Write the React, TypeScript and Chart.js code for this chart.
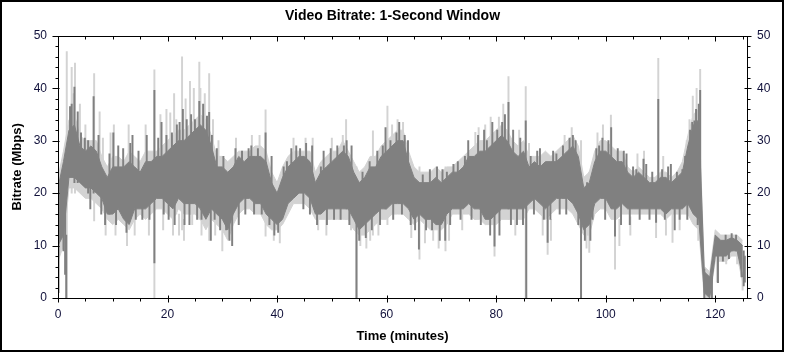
import React, { useEffect, useRef } from 'react';
import { Chart, registerables } from 'chart.js';

Chart.register(...registerables);

// Time (minutes) of each 1-minute sample of the bitrate band
const minutes = [
  0, 1, 2, 3, 4, 5, 6, 7, 8, 9, 10, 11, 12, 13, 14, 15, 16, 17, 18, 19,
  20, 21, 22, 23, 24, 25, 26, 27, 28, 29, 30, 31, 32, 33, 34, 35, 36, 37, 38, 39,
  40, 41, 42, 43, 44, 45, 46, 47, 48, 49, 50, 51, 52, 53, 54, 55, 56, 57, 58, 59,
  60, 61, 62, 63, 64, 65, 66, 67, 68, 69, 70, 71, 72, 73, 74, 75, 76, 77, 78, 79,
  80, 81, 82, 83, 84, 85, 86, 87, 88, 89, 90, 91, 92, 93, 94, 95, 96, 97, 98, 99,
  100, 101, 102, 103, 104, 105, 106, 107, 108, 109, 110, 111, 112, 113, 114, 115, 116, 117, 118, 119,
  120, 121, 122, 123, 124, 125,
];

// Core (dark) band of the 1-second bitrate, Mbps
const darkLow = [
  10, 12, 23, 23, 22, 21, 21, 20, 19, 16, 16, 17, 15, 14, 17, 17, 17, 18, 19, 19,
  18, 17, 19, 18, 18, 18, 17, 15, 17, 16, 15, 13, 16, 18, 19, 19, 18, 18, 16, 15,
  14, 15, 18, 19, 20, 20, 19, 16, 16, 17, 17, 17, 17, 17, 15, 13, 14, 15, 16, 17,
  17, 18, 18, 18, 17, 15, 16, 15, 15, 14, 14, 16, 17, 17, 17, 18, 17, 17, 15, 15,
  16, 17, 17, 17, 17, 17, 18, 19, 18, 17, 18, 19, 19, 19, 18, 16, 13, 14, 18, 19,
  19, 17, 17, 18, 17, 17, 17, 17, 17, 17, 17, 16, 17, 17, 17, 18, 16, 15, 1, 0,
  8, 8, 8, 9, 9, 4,
];
const darkHigh = [
  21, 26, 32, 33, 29, 28, 29, 28, 25, 23, 25, 25, 25, 26, 25, 24, 26, 26, 27, 27,
  28, 29, 30, 30, 31, 32, 33, 32, 29, 25, 25, 24, 25, 27, 26, 27, 27, 27, 26, 22,
  20, 23, 25, 26, 27, 27, 26, 22, 24, 25, 26, 27, 28, 27, 24, 22, 23, 25, 25, 27,
  28, 29, 30, 30, 26, 23, 22, 22, 22, 23, 22, 23, 24, 24, 25, 27, 27, 28, 28, 29,
  30, 31, 30, 28, 27, 28, 25, 26, 25, 26, 26, 26, 27, 28, 29, 27, 21, 22, 26, 28,
  28, 27, 26, 26, 24, 23, 24, 23, 22, 22, 23, 23, 22, 23, 24, 29, 33, 34, 5, 4,
  12, 11, 11, 11.5, 11, 10,
];

// Outer (light) envelope of the 1-second bitrate, Mbps
const lightLow = [
  7, 10, 21, 21, 20, 19, 19, 18, 17, 15, 14, 15, 14, 13, 15, 16, 15, 16, 17, 17,
  16, 15, 17, 16, 16, 16, 15, 13, 15, 14, 13, 11, 14, 16, 17, 17, 16, 16, 14, 13,
  13, 14, 16, 18, 18, 18, 17, 15, 15, 15, 15, 15, 15, 15, 13, 12, 12, 13, 14, 15,
  15, 16, 16, 16, 15, 14, 15, 14, 13, 13, 13, 14, 16, 16, 16, 16, 15, 15, 14, 14,
  14, 15, 15, 15, 15, 15, 17, 17, 16, 15, 16, 17, 17, 17, 16, 14, 12, 12, 16, 17,
  17, 15, 15, 16, 16, 16, 16, 16, 16, 16, 16, 15, 16, 16, 16, 16, 14, 13, 0, 0,
  7, 7, 7, 8, 8, 3,
];
const lightHigh = [
  23, 28, 34, 35, 31, 30, 30, 30, 27, 25, 27, 27, 26, 28, 27, 26, 28, 28, 28, 29,
  30, 31, 32, 32, 33, 34, 35, 34, 31, 27, 27, 26, 27, 28, 28, 28, 29, 29, 28, 24,
  22, 25, 27, 28, 28, 28, 28, 24, 26, 27, 28, 28, 30, 28, 26, 24, 25, 27, 27, 29,
  30, 31, 32, 32, 28, 25, 24, 24, 24, 25, 24, 25, 25, 26, 27, 28, 29, 30, 30, 31,
  32, 33, 32, 30, 29, 30, 27, 27, 27, 28, 27, 28, 29, 30, 31, 29, 23, 24, 28, 30,
  30, 29, 28, 28, 25, 24, 25, 24, 23, 23, 24, 24, 23, 24, 26, 31, 35, 36, 6, 5,
  13, 12, 12, 12, 12, 11,
];

// 1-second excursions of the core trace beyond its band: time, low, high
const darkSpikeTime = [
  0.1, 1.0, 1.3, 1.5, 2.2, 2.5, 3.0, 3.6, 4.2, 4.9, 5.5, 5.9, 6.5, 7.4, 7.9, 8.6, 9.4, 10.1, 10.6, 11.0,
  11.9, 12.5, 13.2, 13.6, 14.2, 14.7, 15.4, 16.2, 16.7, 17.6, 18.3, 18.9, 19.3, 19.8, 20.2, 20.8, 21.3, 21.7, 22.2, 22.8,
  23.1, 23.5, 24.0, 24.3, 25.0, 25.4, 25.8, 26.2, 26.5, 27.2, 27.6, 27.9, 28.1, 28.6, 29.0, 29.6, 30.2, 30.7, 31.3, 31.8,
  32.4, 33.0, 33.6, 34.2, 34.8, 35.3, 35.8, 36.5, 37.2, 37.9, 38.6, 39.0, 39.5, 40.2, 41.2, 41.8, 42.6, 43.5, 44.2, 44.8,
  45.3, 46.0, 46.4, 47.3, 48.0, 48.5, 49.1, 49.8, 50.4, 51.0, 51.6, 52.2, 52.7, 53.2, 53.6, 54.5, 55.0, 55.6, 56.2, 56.9,
  57.3, 58.3, 58.8, 59.3, 59.8, 60.7, 61.2, 61.8, 62.3, 62.8, 63.3, 63.9, 64.4, 65.2, 65.9, 66.6, 67.2, 67.9, 68.3, 69.2,
  69.7, 70.2, 70.7, 71.0, 71.6, 72.2, 73.0, 73.5, 74.3, 74.9, 75.5, 76.7, 77.2, 77.8, 78.3, 78.9, 79.3, 79.7, 80.2, 80.6,
  81.1, 81.6, 82.25, 82.7, 83.1, 83.8, 84.4, 84.9, 85.4, 85.5, 86.3, 86.9, 87.5, 88.0, 88.7, 89.4, 89.9, 90.4, 91.0, 91.6,
  92.2, 92.8, 93.4, 94.0, 94.5, 95.0, 95.5, 96.2, 96.6, 97.2, 97.6, 98.3, 98.8, 99.4, 99.9, 100.5, 101.0, 101.7, 102.2, 102.8,
  103.3, 103.8, 104.4, 105.0, 105.6, 106.2, 106.9, 107.4, 108.0, 108.5, 109.2, 109.6, 110.3, 110.8, 111.4, 111.9, 112.6, 113.0, 113.5, 114.0,
  114.5, 114.9, 115.4, 115.8, 116.2, 116.5, 116.8, 117.0, 117.25, 118.0, 119.4, 120.5, 121.4, 121.9, 122.5, 123.0, 123.8, 124.3, 124.8, 125.2,
  125.4,
];
const darkSpikeLow = [
  1, 9, 4.5, 0, 24, 26, 22, 22, 24, 23, 20, 17, 20, 22, 16, 14, 16, 19, 14, 19,
  19, 12.5, 19, 20, 15, 19, 15, 20, 15, 6.7, 21, 21, 16, 20, 15, 21, 14, 21, 21, 19,
  14, 21, 14, 21, 21, 15, 18, 15, 22, 22, 18, 11, 20, 15, 19, 13, 18, 13, 11, 10,
  20, 14, 21, 16, 21, 21, 16, 21, 16, 17, 14, 18, 12, 12.5, 17, 18, 21, 21, 21, 17,
  22, 16, 21, 14, 18, 20, 14, 20, 15, 20, 15, 20, 17, 14, 20, 0, 11, 17, 11.5, 18,
  13, 19, 14, 20, 17, 21, 15, 21, 22, 16, 22, 22, 14, 13, 9.3, 18, 13, 18, 13, 17,
  11, 17, 11, 19, 14, 19, 20, 15, 20, 21, 15, 21, 14, 21, 21, 12, 22, 9.9, 22, 12,
  22, 22, 17, 14, 22, 14, 21, 14, 17, 0, 20, 16, 21, 21, 15, 10.6, 15, 20, 21, 16,
  21, 16, 21, 21, 20, 14, 0, 11, 16, 11, 15, 20, 20, 20, 15, 20, 18, 11.8, 20, 14,
  20, 20, 14, 19, 19, 15, 19, 19, 15, 19, 14.4, 19, 19, 15, 19, 19, 13, 19, 15, 19,
  19, 15, 20, 20, 16, 20, 14, 20, 15, 0, 0, 2.9, 7, 9, 7.5, 9, 9, 8, 4, 2.3,
  3,
];
const darkSpikeHigh = [
  18, 20, 18, 12, 36.5, 37, 40.2, 35.5, 31.5, 30.5, 30, 24, 38.4, 31, 22, 22, 27.5, 31.5, 20, 29,
  28.5, 20, 29.5, 31, 21, 28, 21, 31, 22, 39.6, 30.5, 33.5, 22, 31, 21, 31.5, 21, 33, 33.5, 36,
  21, 34, 21, 35, 34, 21, 37.5, 22, 37, 34.7, 35.4, 20, 31, 21, 28.5, 20, 27, 19, 20, 18,
  28.5, 20, 28, 21, 28.5, 29, 21, 28.5, 21, 31.5, 20, 27, 18, 17, 25, 26, 28.5, 29, 28.5, 21,
  29.5, 21, 29, 19, 25, 28, 19, 28.5, 20, 29, 20, 29, 30, 20, 29, 20, 17, 24, 17, 26,
  18, 28, 19, 29, 32.5, 30, 20, 31.5, 33.5, 21, 31, 30, 20, 18, 22, 23.5, 18, 24.5, 17, 25,
  17, 24.5, 22, 24, 19, 25.5, 26, 19, 27, 30, 20, 31, 20, 32, 30, 19, 33.5, 25, 32, 19,
  33.5, 35, 37.3, 20, 32, 20, 30.5, 20, 33.8, 20, 27, 20, 28, 28.5, 20, 20, 20, 28, 27.5, 21,
  29, 21, 30.5, 31, 30, 20, 22, 16, 22, 20, 23, 28.5, 29, 30.5, 20, 30, 32.5, 20, 28.5, 19,
  28, 27.5, 19, 25, 24.5, 19, 26.5, 25.5, 19, 24, 20, 37.9, 24.5, 19, 25, 25.5, 20, 24, 19, 24.5,
  27, 19, 32, 33.5, 33.8, 36, 20, 37, 39.6, 5.5, 4, 10, 10, 12, 10, 12.3, 12, 10, 10, 9,
  8,
];

// 1-second excursions of the outer envelope: time, low, high
const lightSpikeTime = [
  1.6, 2.5, 2.8, 3.1, 4.0, 5.0, 6.6, 7.6, 8.2, 8.7, 9.6, 10.2, 10.5, 12.6, 12.9, 14.0, 16.0, 16.6, 17.6, 18.7,
  19.2, 19.8, 20.5, 21.0, 21.2, 21.6, 22.1, 22.65, 23.0, 23.3, 24.1, 24.5, 24.8, 25.8, 26.0, 26.2, 26.8, 27.6, 28.3, 28.7,
  29.3, 30.0, 32.5, 35.4, 36.8, 37.9, 39.4, 40.5, 43.0, 45.2, 46.5, 47.5, 49.0, 50.0, 52.0, 52.6, 53.5, 54.5, 55.2, 56.3,
  57.0, 57.5, 58.5, 60.15, 61.0, 62.0, 63.0, 64.5, 66.0, 67.0, 68.5, 69.5, 70.75, 71.4, 73.8, 76.2, 76.8, 78.0, 79.0, 79.7,
  80.5, 81.3, 82.25, 83.5, 84.2, 85.4, 86.0, 88.5, 89.4, 90.0, 92.5, 93.8, 95.5, 96.5, 97.0, 98.5, 99.5, 100.95, 101.7, 102.5,
  104.5, 105.8, 107.0, 109.2, 109.6, 110.5, 111.0, 112.2, 113.5, 114.8, 115.3, 115.9, 116.6, 116.9, 117.25, 120.3, 122.0, 124.0, 125.0,
];
const lightSpikeLow = [
  0, 20, 25, 20, 25, 24, 14.7, 24, 24, 12, 22, 23, 12, 10, 24, 12, 24, 12, 0, 26,
  13, 26, 16, 12, 27, 16, 12, 13, 11, 28, 16, 14, 28, 15, 30, 12, 30, 11, 26, 12,
  22, 9, 24, 24, 24, 11.8, 11, 10.5, 24, 24, 24, 13, 12, 24, 24, 15, 13, 0, 10, 9.5,
  11, 12, 12, 14, 25, 26, 27, 11.5, 7.4, 10.5, 11, 9.5, 9, 11, 13, 15, 25, 26, 26, 8,
  27, 27, 15, 12, 25, 0, 24, 12, 8.3, 11, 24, 24, 0, 9.5, 8.7, 24, 25, 16, 5.5, 10,
  12, 22, 21, 11.5, 19, 21, 12, 10.6, 13, 22, 24, 16, 24, 11, 13, 3, 6.5, 6.5, 1.5,
];
const lightSpikeHigh = [
  47, 44, 39, 44.8, 37, 33, 42.8, 35.5, 30.5, 17, 31.5, 33, 17, 15, 33, 16, 33, 16, 43.5, 35,
  17, 36, 35.3, 16, 39, 34, 16, 46, 15, 38, 41.3, 17, 40, 45, 40, 16, 39, 42.8, 34, 16,
  30, 14, 30.5, 31, 31, 35.9, 15, 14, 30.5, 30.5, 30.5, 16, 16, 30.5, 31, 34, 16, 25, 13, 13,
  14, 31.9, 15, 36.6, 33, 34, 33.5, 15, 25, 14, 14, 13, 25, 15, 16, 31.6, 32.5, 33, 34.5, 28,
  34.5, 37, 42.2, 15, 32, 40.3, 29.5, 16, 27, 15, 31, 32.5, 30, 13, 24, 31.5, 33, 34.9, 22, 15,
  15.5, 27.5, 28, 20, 45.7, 27, 15, 22, 16, 30, 34, 38.5, 40, 16, 43.6, 8, 9, 9, 5,
];

const xTickLabels = ['0', '20', '40', '60', '80', '100', '120'];
const yTickLabels = ['0', '10', '20', '30', '40', '50'];

const DARK = '#808080';
const LIGHT = '#d3d3d3';
const TICK_FONT = "'Liberation Sans Narrow', 'Liberation Sans', Arial, sans-serif";
const TITLE_FONT = "'Liberation Sans', Arial, sans-serif";

const framePlugin = {
  id: 'frame',
  beforeDraw(chart: any) {
    const ctx = chart.ctx;
    ctx.save();
    ctx.fillStyle = '#ffffff';
    ctx.fillRect(0, 0, chart.width, chart.height);
    ctx.restore();
  },
  afterDraw(chart: any) {
    const ctx = chart.ctx;
    const xs = chart.scales.x;
    const ys = chart.scales.y;
    const L = Math.round(chart.chartArea.left) + 0.5;
    const R = Math.round(chart.chartArea.right) + 0.5;
    const T = Math.round(chart.chartArea.top) + 0.5;
    const B = Math.round(chart.chartArea.bottom) + 0.5;
    ctx.save();
    ctx.strokeStyle = '#000000';
    ctx.lineWidth = 1;
    ctx.beginPath();
    ctx.rect(L, T, R - L, B - T);
    for (let v = 0; v <= 50; v += 2) {
      const py = Math.round(ys.getPixelForValue(v)) + 0.5;
      const major = v % 10 === 0;
      ctx.moveTo(L - (major ? 6 : 3), py);
      ctx.lineTo(L + (major ? 1 : 0), py);
      ctx.moveTo(R - (major ? 3 : 0), py);
      ctx.lineTo(R + (major ? 4 : 3), py);
    }
    for (let v = 0; v <= xs.max; v += 5) {
      const px = Math.round(xs.getPixelForValue(v)) + 0.5;
      const major = v % 20 === 0;
      ctx.moveTo(px, B - (major ? 3 : 0));
      ctx.lineTo(px, B + (major ? 4 : 3));
      ctx.moveTo(px, T);
      ctx.lineTo(px, T + (major ? 5 : 3));
    }
    ctx.stroke();
    ctx.lineWidth = 2;
    ctx.strokeRect(1, 1, chart.width - 3, chart.height - 3);
    ctx.restore();
  },
};

export default function App() {
  const canvasRef = useRef<HTMLCanvasElement | null>(null);

  useEffect(() => {
    const canvas = canvasRef.current;
    if (!canvas) return;
    const pts = (ys: number[]) => minutes.map((t, i) => ({ x: t, y: ys[i] }));
    const spikes = (ts: number[], lo: number[], hi: number[]) =>
      ts.map((t, i) => ({ x: t, y: [lo[i], hi[i]] }));

    const chart = new Chart(canvas, {
      type: 'line',
      data: {
        datasets: [
          { type: 'line', data: pts(darkHigh), borderColor: DARK, borderWidth: 1, pointRadius: 0, fill: false, order: 2, tension: 0 },
          { type: 'line', data: pts(darkLow), borderColor: DARK, borderWidth: 1, pointRadius: 0, fill: '-1', backgroundColor: DARK, order: 2, tension: 0 },
          { type: 'line', data: pts(lightHigh), borderColor: LIGHT, borderWidth: 1, pointRadius: 0, fill: false, order: 3, tension: 0 },
          { type: 'line', data: pts(lightLow), borderColor: LIGHT, borderWidth: 1, pointRadius: 0, fill: '-1', backgroundColor: LIGHT, order: 3, tension: 0 },
          { type: 'bar', data: spikes(darkSpikeTime, darkSpikeLow, darkSpikeHigh) as any, backgroundColor: DARK, barThickness: 1.3, grouped: false, order: 1 } as any,
          { type: 'bar', data: spikes(lightSpikeTime, lightSpikeLow, lightSpikeHigh) as any, backgroundColor: LIGHT, barThickness: 1.3, grouped: false, order: 4 } as any,
        ],
      },
      options: {
        responsive: false,
        animation: false,
        devicePixelRatio: 1,
        layout: { padding: 0 },
        plugins: {
          legend: { display: false },
          tooltip: { enabled: false },
          title: {
            display: true,
            text: 'Video Bitrate: 1-Second Window',
            color: '#000000',
            font: { family: TITLE_FONT, size: 14, weight: 'bold' },
            padding: { top: 8, bottom: 11 },
          },
        },
        scales: {
          x: {
            type: 'linear',
            min: 0,
            max: 125.8,
            offset: false,
            grid: { display: false, drawTicks: false },
            border: { display: false },
            afterFit: (s: any) => { s.height = 55; },
            afterBuildTicks: (s: any) => { s.ticks = xTickLabels.map((l) => ({ value: Number(l) })); },
            ticks: { color: '#10103a', padding: 9, maxRotation: 0, autoSkip: false, font: { family: TICK_FONT, size: 12 } },
            title: { display: true, text: 'Time (minutes)', color: '#000000', font: { family: TITLE_FONT, size: 13, weight: 'bold' }, padding: { top: 0, bottom: 9 } },
          },
          y: {
            position: 'left',
            min: 0,
            max: 50,
            grid: { display: false, drawTicks: false },
            border: { display: false },
            afterFit: (s: any) => { s.width = 58; },
            afterBuildTicks: (s: any) => { s.ticks = yTickLabels.map((l) => ({ value: Number(l) })); },
            ticks: { color: '#10103a', padding: 11, font: { family: TICK_FONT, size: 12 } },
            title: { display: true, text: 'Bitrate (Mbps)', color: '#000000', font: { family: TITLE_FONT, size: 13, weight: 'bold' }, padding: { top: 10, bottom: 0 } },
          },
          y2: {
            position: 'right',
            min: 0,
            max: 50,
            grid: { display: false, drawTicks: false },
            border: { display: false },
            afterFit: (s: any) => { s.width = 38; },
            afterBuildTicks: (s: any) => { s.ticks = yTickLabels.map((l) => ({ value: Number(l) })); },
            ticks: { color: '#10103a', padding: 10, font: { family: TICK_FONT, size: 12 } },
          },
        },
      },
      plugins: [framePlugin],
    } as any);
    return () => chart.destroy();
  }, []);

  return (
    <div style={{ position: 'absolute', left: 0, top: 0, width: 785, height: 353 }}>
      <canvas ref={canvasRef} width={785} height={353} />
    </div>
  );
}
